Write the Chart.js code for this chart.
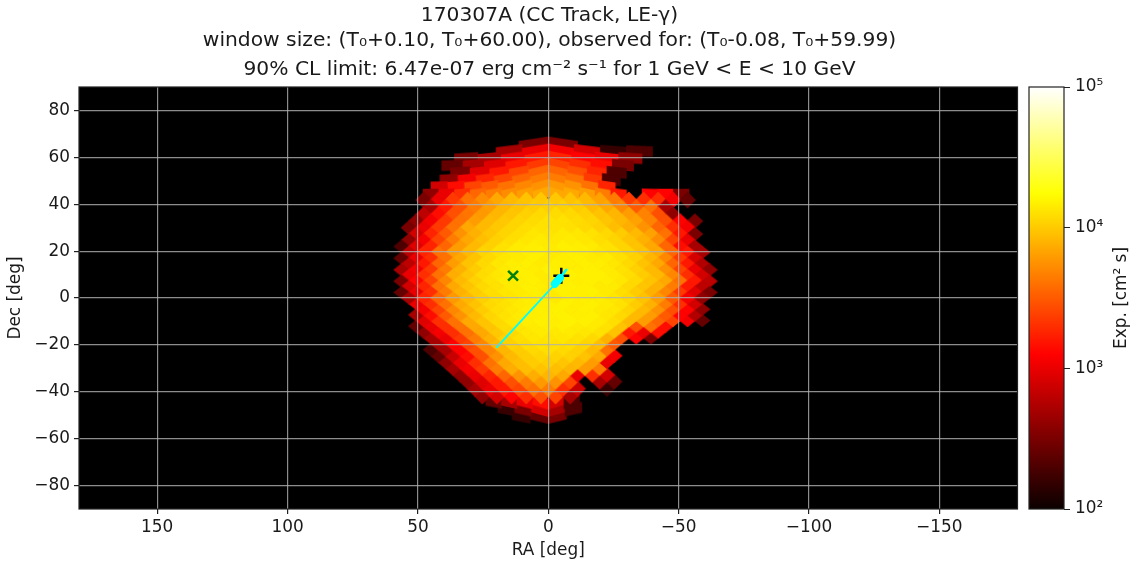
<!DOCTYPE html>
<html>
<head>
<meta charset="utf-8">
<style>html,body{margin:0;padding:0;background:#fff}canvas{display:block}</style>
<script src="https://cdn.jsdelivr.net/npm/chart.js@4/dist/chart.umd.js"></script>
</head>
<body>
<canvas id="c" width="1137" height="566"></canvas>
<script>
const titleLines = ["170307A (CC Track, LE-γ)", "window size: (T₀+0.10, T₀+60.00), observed for: (T₀-0.08, T₀+59.99)"];
const subtitleLine = "90% CL limit: 6.47e-07 erg cm⁻² s⁻¹ for 1 GeV < E < 10 GeV";
const raTicks = [150, 100, 50, 0, -50, -100, -150];
const decTicks = [80, 60, 40, 20, 0, -20, -40, -60, -80];
const expTicks = [100, 1000, 10000, 100000];
const expTickLabels = ["10²", "10³", "10⁴", "10⁵"];

// sky rings: declination, RA of first cell, RA spacing, log10 exposure of each cell (null = no exposure)
const ringDec = [66.44,63.44,60.43,57.39,54.34,51.26,48.19,45,41.81,38.68,35.69,32.8,30,27.28,24.62,21.97,19.47,16.96,14.48,12.02,9.59,7.18,4.78,2.39,0,-2.39,-4.78,-7.18,-9.59,-12.02,-14.48,-16.96,-19.47,-22.02,-24.62,-27.28,-30,-32.8,-35.69,-38.68,-41.81,-45,-48.19,-51.26];
const ringStart = [5.625,15,31.5,36.8,33.75,38.1,41.8,45,47.8125,45,47.8125,50.625,53.4375,50.625,53.4375,56.25,53.4375,56.25,53.4375,56.25,53.4375,56.25,53.4375,56.25,53.4375,50.625,47.8125,50.625,47.8125,50.625,47.8125,45,42.1875,45,42.1875,39.375,36.5625,33.75,30.9375,28.125,25.3125,21,16.1,10.38];
const ringStep = [11.25,10,9,8.18,7.5,6.92,6.43,6,5.625,5.625,5.625,5.625,5.625,5.625,5.625,5.625,5.625,5.625,5.625,5.625,5.625,5.625,5.625,5.625,5.625,5.625,5.625,5.625,5.625,5.625,5.625,5.625,5.625,5.625,5.625,5.625,5.625,5.625,5.625,5.625,5.625,6,6.43,6.92];
const ringLogExp = [
[2.5,2.5],
[2.7,3.0,3.05,2.9,2.2,2.3],
[2.5,2.7,3.0,3.2,3.25,3.1,3.0,2.6],
[2.4,2.7,2.95,3.2,3.35,3.4,3.3,3.15,2.5],
[2.5,2.95,3.2,3.4,3.55,3.55,3.45,3.25,2.3],
[2.6,3.05,3.25,3.4,3.55,3.65,3.65,3.6,3.35,2.3],
[2.9,3.15,3.4,3.5,3.6,3.7,3.75,3.78,3.75,3.6,3.25],
[2.6,3.0,3.3,3.55,3.65,3.72,3.8,3.85,3.85,3.85,3.8,3.65,3.2,null,3.1,3.1,2.5],
[2.5,3.0,3.35,3.6,3.72,3.85,3.93,3.97,3.99,3.99,3.97,3.93,3.82,3.65,3.35,3.3,3.3,3.05,2.4],
[2.7,3.2,3.45,3.65,3.8,3.91,3.97,4.01,4.03,4.03,4.01,3.93,3.85,3.7,3.5,3.6,2.7],
[2.8,3.15,3.45,3.62,3.78,3.91,3.98,4.03,4.07,4.08,4.07,4.03,3.97,3.91,3.8,3.68,3.45,2.6],
[2.6,3.05,3.35,3.6,3.8,3.93,3.99,4.05,4.08,4.11,4.11,4.08,4.05,3.98,3.91,3.82,3.68,3.45,3.1,2.5],
[2.5,3.0,3.35,3.6,3.85,3.93,3.99,4.05,4.09,4.11,4.11,4.1,4.07,4.03,3.95,3.87,3.75,3.55,3.3,3.05],
[2.9,3.25,3.5,3.75,3.89,3.98,4.05,4.09,4.13,4.12,4.14,4.13,4.11,4.07,4.01,3.93,3.82,3.6,3.2,2.5],
[2.6,3.05,3.4,3.65,3.85,3.95,4.03,4.09,4.13,4.15,4.14,4.15,4.13,4.09,4.05,3.97,3.89,3.72,3.4,3.0],
[2.3,2.95,3.25,3.55,3.8,3.93,4.03,4.11,4.15,4.16,4.15,4.17,4.16,4.15,4.11,4.05,3.97,3.85,3.55,3.15,2.7],
[2.8,3.25,3.6,3.8,3.93,4.05,4.11,4.15,4.16,4.17,4.15,4.17,4.16,4.13,4.11,4.05,3.97,3.85,3.55,3.2,2.7],
[2.4,3.0,3.3,3.6,3.85,3.97,4.07,4.13,4.15,4.17,4.15,4.16,4.17,4.15,4.15,4.1,4.03,3.91,3.7,3.35,2.9],
[2.8,3.2,3.55,3.8,3.97,4.07,4.13,4.16,4.17,4.15,4.17,4.16,4.17,4.16,4.13,4.07,3.97,3.85,3.55,3.2,2.75],
[2.7,3.05,3.35,3.65,3.89,4.01,4.09,4.15,4.17,4.16,4.18,4.17,4.16,4.17,4.15,4.11,4.03,3.93,3.75,3.4,3.0,2.6],
[3.0,3.3,3.6,3.87,3.98,4.08,4.13,4.16,4.17,4.15,4.17,4.18,4.17,4.17,4.15,4.09,4.01,3.93,3.7,3.3,2.9],
[2.5,3.1,3.4,3.7,3.93,4.03,4.11,4.15,4.16,4.17,4.15,4.17,4.16,4.17,4.16,4.13,4.07,3.97,3.85,3.6,3.2,2.8],
[2.9,3.25,3.6,3.85,3.97,4.07,4.11,4.15,4.17,4.16,4.17,4.18,4.17,4.15,4.15,4.07,3.98,3.89,3.65,3.2,2.8],
[2.4,3.0,3.3,3.65,3.89,4.01,4.09,4.13,4.15,4.17,4.15,4.18,4.17,4.18,4.15,4.09,4.01,3.89,3.7,3.35,2.95,2.5],
[2.7,3.25,3.55,3.78,3.93,4.03,4.09,4.13,4.16,4.17,4.15,4.18,4.17,4.16,4.13,4.07,3.97,3.8,3.5,3.05,2.6],
[3.0,3.3,3.6,3.85,3.97,4.07,4.11,4.15,4.16,4.17,4.18,4.16,4.17,4.15,4.11,4.01,3.89,3.65,3.3,2.9],
[3.05,3.4,3.7,3.89,4.01,4.09,4.13,4.16,4.17,4.18,4.16,4.17,4.15,4.13,4.05,3.93,3.75,3.45,3.1,2.6],
[2.7,3.15,3.5,3.75,3.93,4.05,4.11,4.15,4.16,4.17,4.18,4.16,4.17,4.13,4.07,3.93,3.8,3.5,3.1,2.75],
[2.95,3.3,3.6,3.85,3.97,4.07,4.13,4.16,4.17,4.16,4.18,4.17,4.15,4.09,3.93,3.8,3.55,3.4,3.05,2.4],
[2.4,3.0,3.3,3.6,3.85,3.98,4.08,4.13,4.15,4.16,4.17,4.15,4.15,4.11,3.97,3.45,3.6,3.15],
[2.6,3.05,3.3,3.6,3.85,3.99,4.07,4.13,4.15,4.14,4.15,4.13,4.11,3.97,3.2,3.0,3.15],
[2.7,3.0,3.35,3.65,3.89,4.03,4.09,4.13,4.12,4.13,4.11,4.07,3.89,3.45,3.1,2.5],
[2.7,3.1,3.4,3.7,3.93,4.03,4.08,4.11,4.1,4.09,4.05,3.95,3.5],
[2.3,2.7,3.1,3.45,3.7,3.91,4.01,4.07,4.09,4.07,4.03,3.93,3.6],
[2.4,2.85,3.15,3.45,3.75,3.93,4.01,4.05,4.04,4.03,3.97,3.85,3.05],
[2.6,3.0,3.3,3.6,3.85,3.95,4.01,4.02,3.98,3.93,3.8,3.0],
[2.7,3.05,3.35,3.65,3.87,3.95,3.97,3.95,3.91,3.8,3.65],
[2.6,3.0,3.25,3.55,3.75,3.87,3.91,3.85,3.0,3.3,2.9],
[2.6,2.95,3.2,3.45,3.65,3.78,3.75,3.4,null,2.7,2.4],
[2.7,3.0,3.2,3.4,3.6,3.65,3.3,2.85,null,2.2],
[2.6,2.9,3.1,3.3,3.45,3.4,2.7],
[2.4,2.7,3.0,3.15,2.9,2.3],
[2.2,2.5,2.9,2.7,2.3],
[2.2,2.4,2.5]
];

const grbRA = [13.5];
const grbDec = [9.5];
const bestFitRA = [-5];
const bestFitDec = [9.5];
const trackRA = [19.7, -3.5];
const trackDec = [-21, 7];
const headRA = [-2.5, -4.5];
const headDec = [6, 8.5];
const tipRA = [-4.5, -6.9];
const tipDec = [8.5, 12];

function hot(t) {
  t = Math.max(0, Math.min(1, t));
  const r = t < 0.365079 ? 0.0416 + (1 - 0.0416) * t / 0.365079 : 1;
  const g = t < 0.365079 ? 0 : t < 0.746032 ? (t - 0.365079) / 0.380953 : 1;
  const b = t < 0.746032 ? 0 : (t - 0.746032) / 0.253968;
  return `rgb(${Math.round(r * 255)},${Math.round(g * 255)},${Math.round(b * 255)})`;
}
function expColor(v) { return hot((Math.log10(v) - 2) / 3); }

const cells = [];
ringLogExp.forEach((vals, i) => {
  vals.forEach((L, j) => {
    if (L === null) return;
    cells.push({ x: ringStart[i] - j * ringStep[i], y: ringDec[i], exposure: Math.pow(10, L), ring: i });
  });
});
cells.sort((a, b) => Math.abs(b.y) - Math.abs(a.y));

const imgCache = {};
function diamond(color, w, h) {
  const key = 'd' + color + '|' + w.toFixed(1) + '|' + h.toFixed(1);
  if (imgCache[key]) return imgCache[key];
  const cv = document.createElement('canvas');
  cv.width = Math.ceil(w + 5); cv.height = Math.ceil(h + 5);
  const g = cv.getContext('2d');
  const cx = cv.width / 2, cy = cv.height / 2;
  g.fillStyle = color;
  g.beginPath();
  g.moveTo(cx - w / 2 - 1, cy); g.lineTo(cx, cy - h / 2 - 1);
  g.lineTo(cx + w / 2 + 1, cy); g.lineTo(cx, cy + h / 2 + 1);
  g.closePath(); g.fill();
  imgCache[key] = cv;
  return cv;
}
function capBrick(color, w, above, below, tilt) {
  const key = 'b' + color + '|' + w.toFixed(1) + '|' + above.toFixed(1) + '|' + below.toFixed(1) + '|' + tilt.toFixed(1);
  if (imgCache[key]) return imgCache[key];
  const ext = Math.max(above, below) + Math.abs(tilt);
  const cv = document.createElement('canvas');
  cv.width = Math.ceil(w + 4); cv.height = Math.ceil(2 * ext + 4);
  const g = cv.getContext('2d');
  const cx = cv.width / 2, cy = cv.height / 2;
  const l = cx - w / 2 - 0.3, r = cx + w / 2 + 0.3;
  g.fillStyle = color;
  g.beginPath();
  g.moveTo(l, cy - above + tilt); g.lineTo(r, cy - above - tilt);
  g.lineTo(r, cy + below - tilt); g.lineTo(l, cy + below + tilt);
  g.closePath(); g.fill();
  imgCache[key] = cv;
  return cv;
}
function cellStyle(ctx) {
  const p = ctx.raw;
  if (!p) return 'circle';
  const sx = ctx.chart.scales.x, sy = ctx.chart.scales.y;
  const i = p.ring;
  const up = i > 0 ? ringDec[i - 1] : ringDec[i] + 3;
  const down = i < ringDec.length - 1 ? ringDec[i + 1] : ringDec[i] - 3;
  const w = Math.abs(sx.getPixelForValue(ringStep[i]) - sx.getPixelForValue(0));
  const h = Math.abs(sy.getPixelForValue(up) - sy.getPixelForValue(down));
  const color = expColor(p.exposure);
  if (Math.abs(p.y) < 44) return diamond(color, w, h);
  const s = h / 2;
  const north = p.y > 0;
  const lean = 0.35 * s * Math.max(0, 1 - Math.abs(p.x) / 45) * (p.x > 0 ? 1 : -1) * (north ? 1 : -1);
  return north ? capBrick(color, w, s / 2, s, lean) : capBrick(color, w, s, s / 2, lean);
}

const framePlugin = {
  id: 'frame',
  afterLayout(chart) {
    const s = chart.scales.cb;
    s.left = 1064; s.right = 1137; s.width = 73;
  },
  beforeDraw(chart) {
    const a = chart.chartArea, c = chart.ctx;
    c.save();
    c.fillStyle = '#000';
    c.fillRect(a.left, a.top, a.right - a.left, a.bottom - a.top);
    c.restore();
  },
  afterDraw(chart) {
    const a = chart.chartArea, c = chart.ctx, s = chart.scales.cb;
    c.save();
    const grad = c.createLinearGradient(0, s.getPixelForValue(100), 0, s.getPixelForValue(100000));
    for (let k = 0; k <= 60; k++) grad.addColorStop(k / 60, hot(k / 60));
    c.fillStyle = grad;
    c.fillRect(1029, a.top, 35, a.bottom - a.top);
    c.strokeStyle = '#222';
    c.lineWidth = 1.2;
    c.strokeRect(1029, a.top, 35, a.bottom - a.top);
    c.strokeRect(a.left, a.top, a.right - a.left, a.bottom - a.top);
    c.fillStyle = '#1a1a1a';
    c.font = '16.9px "DejaVu Sans"';
    c.textAlign = 'center';
    c.textBaseline = 'middle';
    c.translate(1122, (a.top + a.bottom) / 2);
    c.rotate(-Math.PI / 2);
    c.fillText('Exp. [cm² s]', 0, 0);
    c.restore();
  }
};

const fontTick = { family: '"DejaVu Sans"', size: 16.9 };
const fontTitle = { family: '"DejaVu Sans"', size: 20.25, weight: 'normal', lineHeight: '25px' };
const txt = '#1a1a1a';
const gridColor = 'rgba(176,176,176,0.8)';
function lineSet(xs, ys, color, width, order) {
  return {
    type: 'scatter', showLine: true, data: xs.map((x, i) => ({ x, y: ys[i] })),
    borderColor: color, borderWidth: width, borderCapStyle: 'round', pointRadius: 0, order, clip: false
  };
}

new Chart(document.getElementById('c'), {
  type: 'scatter',
  data: {
    datasets: [
      { label: 'Exposure', data: cells, pointStyle: cellStyle, pointRadius: 1, pointBorderWidth: 0, order: 5 },
      { label: 'GRB', data: grbRA.map((x, i) => ({ x, y: grbDec[i] })), pointStyle: 'crossRot', pointRadius: 7, pointBorderWidth: 2.5, borderColor: '#007f00', backgroundColor: '#007f00', order: 4 },
      { label: 'Best fit', data: bestFitRA.map((x, i) => ({ x, y: bestFitDec[i] })), pointStyle: 'cross', pointRadius: 8, pointBorderWidth: 2.5, borderColor: '#000', backgroundColor: '#000', order: 3 },
      lineSet(trackRA, trackDec, '#00ffff', 1.8, 2),
      lineSet(headRA, headDec, '#00ffff', 8, 1),
      lineSet(tipRA, tipDec, '#00ffff', 2.5, 1)
    ]
  },
  options: {
    responsive: false,
    devicePixelRatio: 1,
    animation: false,
    events: [],
    layout: { padding: { top: 3, right: 38, left: 0, bottom: 0 } },
    plugins: {
      legend: { display: false },
      tooltip: { enabled: false },
      title: { display: true, text: titleLines, color: txt, font: fontTitle, padding: { top: 0, bottom: 4 } },
      subtitle: { display: true, text: subtitleLine, color: txt, font: fontTitle, padding: { top: 0, bottom: 5 } }
    },
    scales: {
      x: {
        type: 'linear', min: -180, max: 180, reverse: true,
        afterBuildTicks(s) { s.ticks = raTicks.map(value => ({ value })); },
        afterFit(s) { s.height = 57; },
        ticks: { color: txt, font: fontTick, padding: 3, maxRotation: 0, autoSkip: false, callback: v => String(v).replace('-', '−') },
        grid: { color: gridColor, lineWidth: 1.2, tickColor: '#222', tickLength: 5, z: 1 },
        border: { display: false },
        title: { display: true, text: 'RA [deg]', color: txt, font: fontTick, padding: { top: 0, bottom: 5 } }
      },
      y: {
        type: 'linear', min: -90, max: 90,
        afterBuildTicks(s) { s.ticks = decTicks.map(value => ({ value })); },
        afterFit(s) { s.width = 79; },
        ticks: { color: txt, font: fontTick, padding: 4, autoSkip: false, callback: v => String(v).replace('-', '−') },
        grid: { color: gridColor, lineWidth: 1.2, tickColor: '#222', tickLength: 5, z: 1 },
        border: { display: false },
        title: { display: true, text: 'Dec [deg]', color: txt, font: fontTick, padding: { top: 5, bottom: 0 } }
      },
      cb: {
        type: 'logarithmic', position: 'right', min: 100, max: 100000,
        afterBuildTicks(s) { s.ticks = expTicks.map(value => ({ value })); },
        afterFit(s) { s.width = 81.5; },
        ticks: { color: txt, font: fontTick, padding: 5, autoSkip: false, callback: v => expTickLabels[expTicks.indexOf(v)] },
        grid: { drawOnChartArea: false, color: '#222', tickColor: '#222', tickLength: 6 },
        border: { display: false }
      }
    }
  },
  plugins: [framePlugin]
});
</script>
</body>
</html>
